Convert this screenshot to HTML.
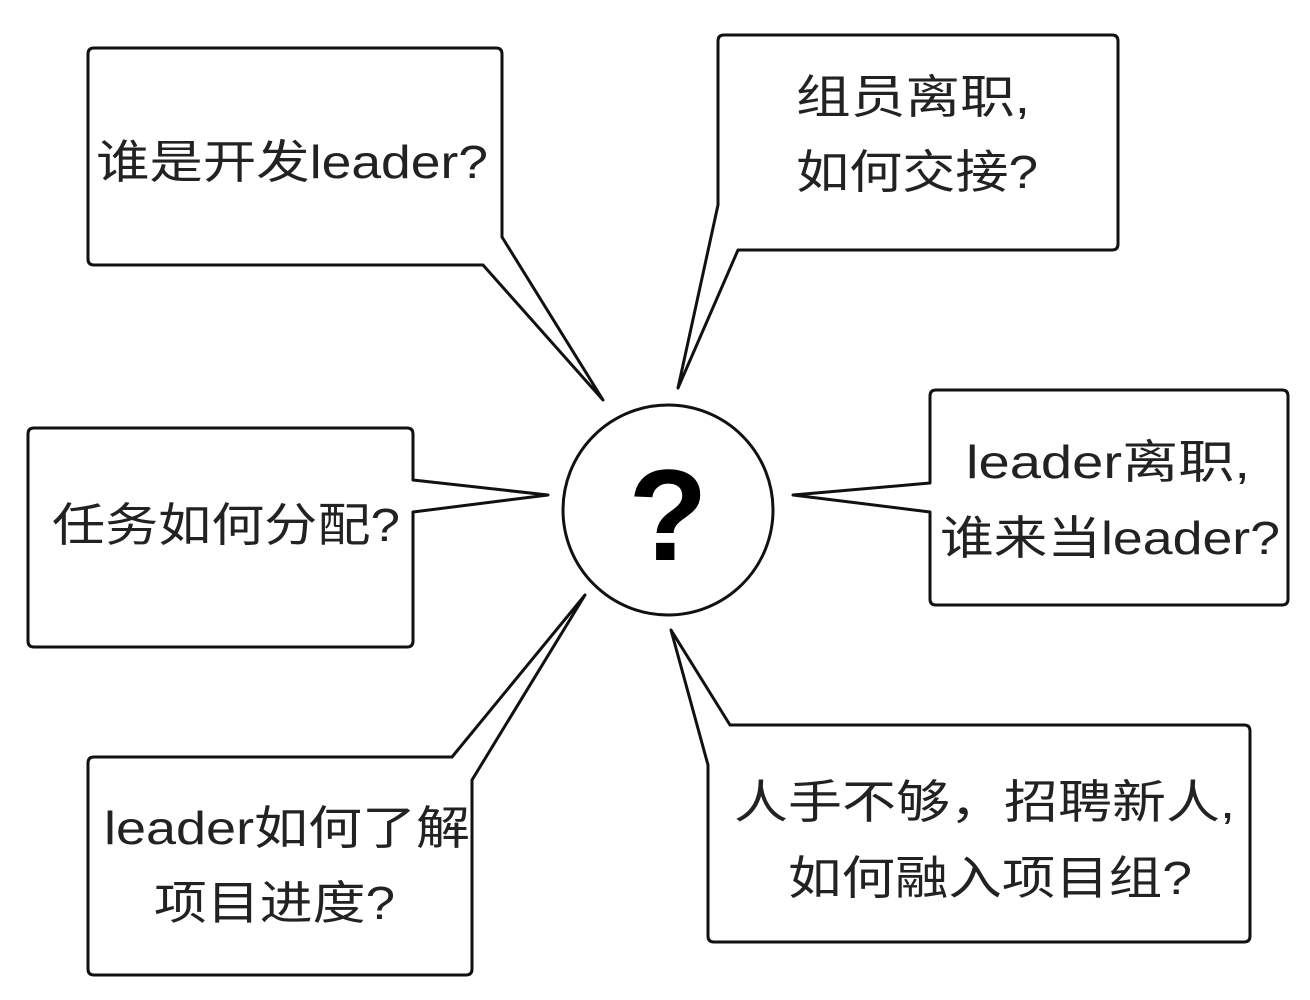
<!DOCTYPE html>
<html><head><meta charset="utf-8"><style>
html,body{margin:0;padding:0;background:#fff;}
svg{display:block}
text{font-family:"Liberation Sans","Noto Sans CJK SC",sans-serif;fill:#222;font-size:46px;}
</style></head><body>
<svg width="1310" height="1000" viewBox="0 0 1310 1000" xmlns="http://www.w3.org/2000/svg">
<g fill="#fff" stroke="#111" stroke-width="3" stroke-linejoin="round">
<path d="M94,48 H496 Q502,48 502,54 V237 L603,400 L483,265 H94 Q88,265 88,259 V54 Q88,48 94,48 Z"/>
<path d="M724,35 H1112 Q1118,35 1118,41 V244 Q1118,250 1112,250 H738 L678,388 L718,205 V41 Q718,35 724,35 Z"/>
<path d="M936,390 H1282 Q1288,390 1288,396 V599 Q1288,605 1282,605 H936 Q930,605 930,599 V512 L793,495 L930,483 V396 Q930,390 936,390 Z"/>
<path d="M34,428 H407 Q413,428 413,434 V480 L548,495 L413,512 V641 Q413,647 407,647 H34 Q28,647 28,641 V434 Q28,428 34,428 Z"/>
<path d="M94,757 H452 L585,595 L472,780 V969 Q472,975 466,975 H94 Q88,975 88,969 V763 Q88,757 94,757 Z"/>
<path d="M730,725 H1244 Q1250,725 1250,731 V936 Q1250,942 1244,942 H714 Q708,942 708,936 V765 L671,630 Z"/>
<circle cx="668" cy="510" r="105"/>
</g>
<g lengthAdjust="spacingAndGlyphs">
<text x="96" y="178" textLength="392" lengthAdjust="spacingAndGlyphs">谁是开发leader?</text>
<text x="796" y="113" textLength="234" lengthAdjust="spacingAndGlyphs">组员离职,</text>
<text x="796" y="188" textLength="242" lengthAdjust="spacingAndGlyphs">如何交接?</text>
<text x="966" y="478" textLength="284" lengthAdjust="spacingAndGlyphs">leader离职,</text>
<text x="940" y="554" textLength="340" lengthAdjust="spacingAndGlyphs">谁来当leader?</text>
<text x="52" y="541" textLength="348" lengthAdjust="spacingAndGlyphs">任务如何分配?</text>
<text x="104" y="844" textLength="366" lengthAdjust="spacingAndGlyphs">leader如何了解</text>
<text x="154" y="919" textLength="241" lengthAdjust="spacingAndGlyphs">项目进度?</text>
<text x="734" y="818" textLength="501" lengthAdjust="spacingAndGlyphs">人手不够，招聘新人,</text>
<text x="788" y="894" textLength="404" lengthAdjust="spacingAndGlyphs">如何融入项目组?</text>
</g>
<text x="668" y="560" text-anchor="middle" style="font-size:130px;font-weight:bold;fill:#000">?</text>
</svg>
</body></html>
